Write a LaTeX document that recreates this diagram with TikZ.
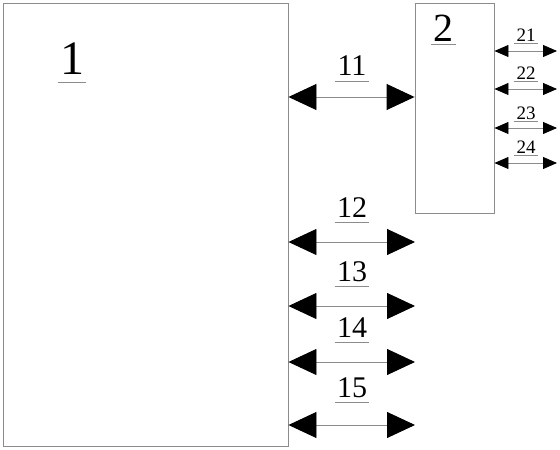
\documentclass[tikz,border=0pt]{standalone}
\usepackage{fontspec}
\setmainfont{Liberation Serif}
\usepackage{tikz}
\usetikzlibrary{arrows.meta,calc,positioning}
\definecolor{rimgray}{RGB}{140,140,140}

\begin{document}
\begin{tikzpicture}[x=1pt, y=1pt,
    unit/.style={draw=rimgray, line width=0.9pt, inner sep=0pt},
    tag/.style={inner sep=0pt, append after command={([xshift=-2pt,yshift=-#1]\tikzlastnode.base west) edge[uline] ([xshift=2pt,yshift=-#1]\tikzlastnode.base east)}},
    tag/.default=5pt,
    uline/.style={draw=rimgray, line width=0.9pt},
    bigarrow/.style={draw=rimgray, line width=0.9pt, {Triangle[length=28pt,width=26pt,color=black]}-{Triangle[length=28pt,width=26pt,color=black]}},
    smallarrow/.style={draw=rimgray, line width=0.8pt, {Triangle[length=14pt,width=12pt,color=black]}-{Triangle[length=14pt,width=12pt,color=black]}}
  ]
  \useasboundingbox (0,0) rectangle (560,450);

  % the two units
  \node[unit, minimum width=285pt, minimum height=443pt] (box1) at (145.5,225.5) {};
  \node[unit, minimum width=79pt, minimum height=210pt] (box2) at (454.5,342) {};

  % unit numbers
  \node[tag=8pt, font=\fontsize{48}{48}\selectfont] (n1) at (72,391) {1};
  \node[tag=3pt, font=\fontsize{40}{40}\selectfont] (n2) at (443.5,422) {2};

  % link between the units
  \coordinate (m11) at (352,353);
  \draw[bigarrow] (box1.east |- m11) -- (box2.west |- m11);
  \node[tag=6pt, font=\fontsize{30}{30}\selectfont] (n11) at (352,384) {11};

  % ports of unit 1
  \coordinate (e12) at (415,208);
  \coordinate (e13) at (415,144);
  \coordinate (e14) at (415,88);
  \coordinate (e15) at (415,25);
  \draw[bigarrow] (box1.east |- e12) -- (e12);
  \draw[bigarrow] (box1.east |- e13) -- (e13);
  \draw[bigarrow] (box1.east |- e14) -- (e14);
  \draw[bigarrow] (box1.east |- e15) -- (e15);
  \node[tag, font=\fontsize{30}{30}\selectfont] (n12) at (352,242) {12};
  \node[tag, font=\fontsize{30}{30}\selectfont] (n13) at (352,178) {13};
  \node[tag, font=\fontsize{30}{30}\selectfont] (n14) at (352,122) {14};
  \node[tag, font=\fontsize{30}{30}\selectfont] (n15) at (352,62) {15};

  % ports of unit 2
  \coordinate (e21) at (557,399);
  \coordinate (e22) at (557,361);
  \coordinate (e23) at (557,322);
  \coordinate (e24) at (557,287);
  \draw[smallarrow] (box2.east |- e21) -- (e21);
  \draw[smallarrow] (box2.east |- e22) -- (e22);
  \draw[smallarrow] (box2.east |- e23) -- (e23);
  \draw[smallarrow] (box2.east |- e24) -- (e24);
  \node[tag=2.5pt, font=\fontsize{19}{19}\selectfont] (n21) at (526,415) {21};
  \node[tag=2.5pt, font=\fontsize{19}{19}\selectfont] (n22) at (526,377) {22};
  \node[tag=2.5pt, font=\fontsize{19}{19}\selectfont] (n23) at (526,337) {23};
  \node[tag=2.5pt, font=\fontsize{19}{19}\selectfont] (n24) at (526,303) {24};
\end{tikzpicture}
\end{document}
